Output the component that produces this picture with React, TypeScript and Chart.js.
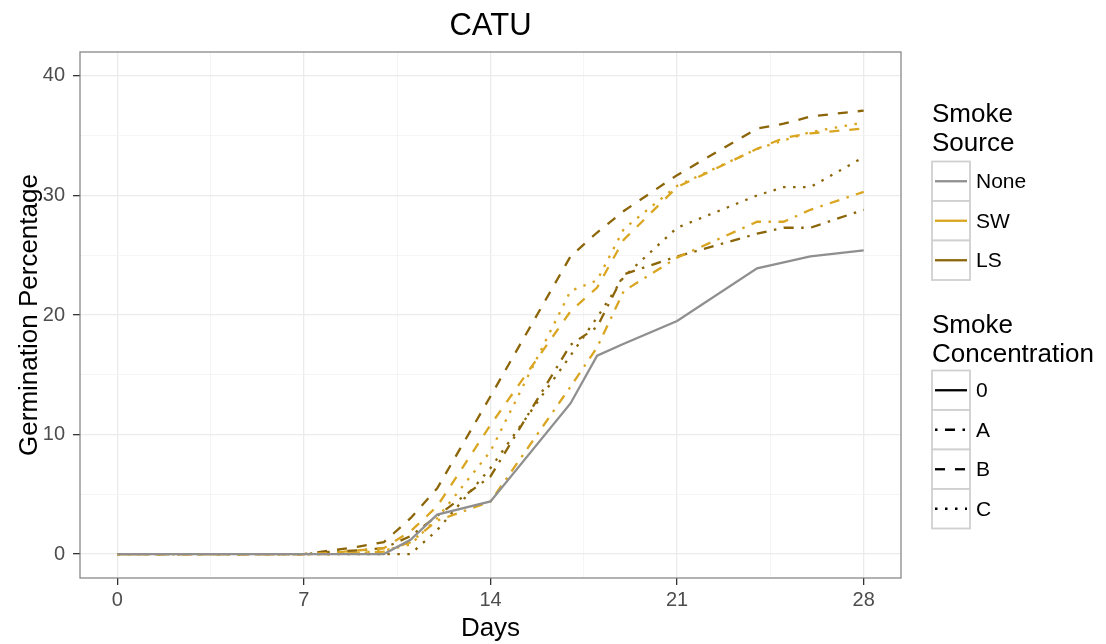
import React, { useEffect, useRef } from 'react';
import { Chart, registerables } from 'chart.js';

Chart.register(...registerables);

const TITLE = 'CATU';
const X_TITLE = 'Days';
const Y_TITLE = 'Germination Percentage';

const DAYS = [0, 7, 8, 9, 10, 11, 12, 14, 17, 18, 19, 21, 24, 25, 26, 28];
const X_TICKS = [0, 3.5, 7, 10.5, 14, 17.5, 21, 24.5, 28];
const X_LABELED = [0, 7, 14, 21, 28];
const Y_TICKS = [0, 5, 10, 15, 20, 25, 30, 35, 40];
const Y_LABELED = [0, 10, 20, 30, 40];

const SOURCE_TITLE = ['Smoke', 'Source'];
const CONC_TITLE = ['Smoke', 'Concentration'];
const SOURCES = ['None', 'SW', 'LS'];
const CONCENTRATIONS = ['0', 'A', 'B', 'C'];

const NONE_0 = [0, 0, 0, 0, 0, 1.2, 3.3, 4.4, 12.6, 16.6, 17.6, 19.5, 23.9, 24.4, 24.9, 25.4];
const SW_A = [0, 0, 0, 0.1, 0.2, 1.0, 2.8, 4.4, 14.0, 17.3, 22.0, 24.8, 27.8, 27.8, 28.8, 30.3];
const SW_B = [0, 0, 0.1, 0.3, 0.5, 1.9, 4.0, 10.8, 20.3, 22.3, 26.3, 30.7, 33.9, 34.8, 35.2, 35.6];
const SW_C = [0, 0, 0, 0.1, 0.3, 0.8, 3.0, 8.6, 22.0, 22.9, 27.2, 30.8, 33.9, 34.6, 35.3, 36.1];
const LS_A = [0, 0, 0.2, 0.3, 0.5, 1.5, 3.2, 6.5, 17.5, 19.0, 23.4, 24.9, 26.8, 27.3, 27.3, 28.8];
const LS_B = [0, 0, 0.3, 0.6, 1.0, 3.0, 5.5, 13.2, 24.9, 26.9, 28.7, 31.7, 35.6, 36.0, 36.6, 37.1];
const LS_C = [0, 0, 0, 0, 0, 0, 2.0, 7.2, 16.6, 19.8, 23.2, 27.3, 30.0, 30.7, 30.7, 33.2];

const SOURCE_COLORS = ['#8f8f8f', '#DAA520', '#8B6508'];
const CONC_DASHES: number[][] = [[], [2.5, 7.5, 10, 7.5], [10, 10], [2.5, 7.5]];

const SERIES = [
  { source: 0, conc: 0, values: NONE_0 },
  { source: 1, conc: 1, values: SW_A },
  { source: 1, conc: 2, values: SW_B },
  { source: 1, conc: 3, values: SW_C },
  { source: 2, conc: 1, values: LS_A },
  { source: 2, conc: 2, values: LS_B },
  { source: 2, conc: 3, values: LS_C },
];

const FONT = '"Liberation Sans", Arial, Helvetica, sans-serif';
const W = 1106;
const H = 644;
const AREA = { left: 80, top: 52, right: 901, bottom: 578 };

const decorPlugin = {
  id: 'decor',
  afterDatasetsDraw(chart: any) {
    const { ctx, chartArea } = chart;
    ctx.save();
    ctx.strokeStyle = '#7f7f7f';
    ctx.lineWidth = 1.2;
    ctx.strokeRect(chartArea.left, chartArea.top, chartArea.right - chartArea.left, chartArea.bottom - chartArea.top);
    ctx.restore();
  },
  afterDraw(chart: any) {
    const { ctx, chartArea } = chart;
    const cx = (chartArea.left + chartArea.right) / 2;
    const cy = (chartArea.top + chartArea.bottom) / 2;
    ctx.save();
    ctx.fillStyle = '#000';
    ctx.textBaseline = 'alphabetic';
    ctx.textAlign = 'center';
    ctx.font = `31px ${FONT}`;
    ctx.fillText(TITLE, cx, 35);
    ctx.font = `26px ${FONT}`;
    ctx.fillText(X_TITLE, cx, 636);
    ctx.save();
    ctx.translate(37, cy);
    ctx.rotate(-Math.PI / 2);
    ctx.fillText(Y_TITLE, 0, 0);
    ctx.restore();

    const drawLegend = (title: string[], titleY: number[], keysTop: number, labels: string[], colorFor: (i: number) => string, dashFor: (i: number) => number[]) => {
      ctx.textAlign = 'left';
      ctx.textBaseline = 'alphabetic';
      ctx.fillStyle = '#000';
      ctx.font = `26px ${FONT}`;
      title.forEach((t, i) => ctx.fillText(t, 932, titleY[i]));
      const kx = 932;
      const kw = 38;
      const kh = 39.5;
      labels.forEach((lab, i) => {
        const top = keysTop + i * kh;
        ctx.fillStyle = '#fff';
        ctx.fillRect(kx, top, kw, kh);
        ctx.strokeStyle = '#d0d0d0';
        ctx.lineWidth = 1.8;
        ctx.setLineDash([]);
        ctx.strokeRect(kx, top, kw, kh);
        ctx.strokeStyle = colorFor(i);
        ctx.lineWidth = 2.3;
        ctx.lineCap = 'butt';
        ctx.setLineDash(dashFor(i));
        ctx.beginPath();
        ctx.moveTo(kx + 3, top + kh / 2);
        ctx.lineTo(kx + kw - 3, top + kh / 2);
        ctx.stroke();
        ctx.setLineDash([]);
        ctx.fillStyle = '#000';
        ctx.font = `21px ${FONT}`;
        ctx.textBaseline = 'middle';
        ctx.fillText(lab, 976, top + kh / 2 + 1);
        ctx.textBaseline = 'alphabetic';
      });
    };
    drawLegend(SOURCE_TITLE, [122, 151], 161.5, SOURCES, (i) => SOURCE_COLORS[i], () => []);
    drawLegend(CONC_TITLE, [333, 362], 370.5, CONCENTRATIONS, () => '#000', (i) => CONC_DASHES[i]);
    ctx.restore();
  },
};

export default function App() {
  const ref = useRef<HTMLCanvasElement | null>(null);
  useEffect(() => {
    if (!ref.current) return;
    const datasets = SERIES.map((s) => ({
      label: `${SOURCES[s.source]} ${CONCENTRATIONS[s.conc]}`,
      data: DAYS.map((d, i) => ({ x: d, y: s.values[i] })),
      borderColor: SOURCE_COLORS[s.source],
      borderDash: CONC_DASHES[s.conc],
      borderWidth: 2.3,
      borderCapStyle: 'butt' as const,
      pointRadius: 0,
      tension: 0,
      fill: false,
    }));
    const chart = new Chart(ref.current, {
      type: 'line',
      data: { datasets },
      options: {
        animation: false,
        responsive: false,
        layout: { padding: { left: 0, top: AREA.top, right: W - AREA.right, bottom: 0 } },
        plugins: { legend: { display: false }, title: { display: false }, tooltip: { enabled: false } },
        scales: {
          x: {
            type: 'linear',
            min: -1.4,
            max: 29.4,
            afterBuildTicks: (axis: any) => { axis.ticks = X_TICKS.map((v) => ({ value: v })); },
            afterFit: (s: any) => { s.height = H - AREA.bottom; },
            border: { display: false },
            grid: {
              color: (c: any) => (X_LABELED.includes(c.tick?.value) ? '#ebebeb' : '#f3f3f3'),
              lineWidth: (c: any) => (X_LABELED.includes(c.tick?.value) ? 1.3 : 0.8),
              tickColor: (c: any) => (X_LABELED.includes(c.tick?.value) ? '#333333' : 'rgba(0,0,0,0)'),
              tickLength: 7,
              tickWidth: 1.3,
            },
            ticks: {
              autoSkip: false,
              maxRotation: 0,
              padding: 3,
              color: '#4d4d4d',
              font: { family: FONT, size: 20 },
              callback: (v: any) => (X_LABELED.includes(Number(v)) ? String(v) : ''),
            },
          },
          y: {
            type: 'linear',
            min: -2,
            max: 42,
            afterBuildTicks: (axis: any) => { axis.ticks = Y_TICKS.map((v) => ({ value: v })); },
            afterFit: (s: any) => { s.width = AREA.left; },
            border: { display: false },
            grid: {
              color: (c: any) => (Y_LABELED.includes(c.tick?.value) ? '#ebebeb' : '#f3f3f3'),
              lineWidth: (c: any) => (Y_LABELED.includes(c.tick?.value) ? 1.3 : 0.8),
              tickColor: (c: any) => (Y_LABELED.includes(c.tick?.value) ? '#333333' : 'rgba(0,0,0,0)'),
              tickLength: 7,
              tickWidth: 1.3,
            },
            ticks: {
              autoSkip: false,
              padding: 8,
              color: '#4d4d4d',
              font: { family: FONT, size: 20 },
              callback: (v: any) => (Y_LABELED.includes(Number(v)) ? String(v) : ''),
            },
          },
        },
      },
      plugins: [decorPlugin],
    });
    return () => chart.destroy();
  }, []);
  return (
    <div style={{ position: 'fixed', left: 0, top: 0, width: W, height: H, background: '#fff' }}>
      <canvas ref={ref} width={W} height={H} style={{ width: W, height: H, display: 'block' }} />
    </div>
  );
}
